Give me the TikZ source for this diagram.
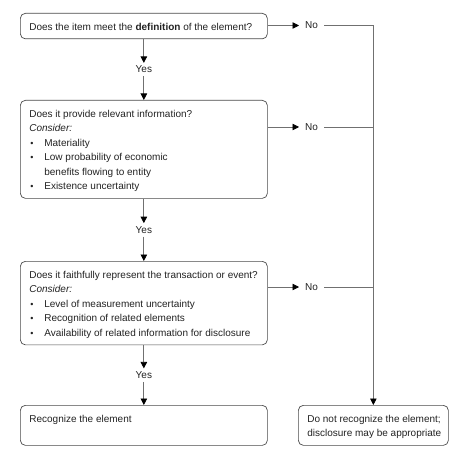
\documentclass[tikz,border=0pt]{standalone}
\usepackage{fontspec}
\setmainfont{Liberation Sans}
\usepackage{tikz}
\usetikzlibrary{calc,arrows.meta,positioning}
\definecolor{linegray}{HTML}{707070}
\definecolor{boxgray}{HTML}{4A4A4A}
\definecolor{textgray}{HTML}{222222}
\newcommand{\bitem}[1]{\par\noindent\hangindent=15bp\hangafter=1\makebox[15bp][l]{\hspace{1bp}\small\textbullet}#1}

\begin{document}
\begin{tikzpicture}[x=1bp,y=1bp,
    every node/.style={font=\fontsize{10bp}{14.5bp}\selectfont, text=textgray},
    qbox/.style={draw=boxgray, line width=0.7bp, rounded corners=5bp, anchor=north west,
        text width=239bp, inner xsep=4bp, inner ysep=5.5bp, align=flush left,
        execute at begin node={\leftskip=5bp\rule{0pt}{11.5bp}},
        execute at end node={\rule[-3bp]{0pt}{3bp}}},
    answer/.style={inner xsep=6bp, inner ysep=3bp},
    flow/.style={draw=linegray, line width=0.8bp, -{Triangle[width=6.5bp,length=6.5bp,color=black]}},
    link/.style={draw=linegray, line width=0.8bp}]
        \useasboundingbox (0,0) rectangle (456,-460);
        % boxes
        \node[qbox] (def) at (20,-13) {Does the item meet the \textbf{definition} of the element?};
        \node[qbox] (rel) at (20,-100) {Does it provide relevant information?\\
            \textit{Consider:}
            \bitem{Materiality}
            \bitem{Low probability of economic\newline benefits flowing to entity}
            \bitem{Existence uncertainty}};
        \node[qbox] (rep) at (20,-261) {Does it faithfully represent the transaction or event?\\
            \textit{Consider:}
            \bitem{Level of measurement uncertainty}
            \bitem{Recognition of related elements}
            \bitem{Availability of related information for disclosure}};
        \node[qbox] (yes) at (20,-405) {Recognize the element\\\mbox{}};
        \node[qbox, text width=142bp] (no) at (298,-405) {Do not recognize the element;\\
            disclosure may be appropriate};

        % Yes branch
        \node[answer] (yes1) at ($(def.south)!0.5!(rel.north)$) {Yes};
        \node[answer] (yes2) at ($(rel.south)!0.5!(rep.north)$) {Yes};
        \node[answer] (yes3) at ($(rep.south)!0.5!(yes.north)$) {Yes};
        \draw[flow] (def) -- (yes1);
        \draw[flow] (yes1) -- (rel);
        \draw[flow] (rel) -- (yes2);
        \draw[flow] (yes2) -- (rep);
        \draw[flow] (rep) -- (yes3);
        \draw[flow] (yes3) -- (yes);

        % No branch
        \node[answer, anchor=west] (no1) at (299,-25.5) {No};
        \node[answer, anchor=west] (no2) at (299,-127) {No};
        \node[answer, anchor=west] (no3) at (299,-287) {No};
        \coordinate (c1) at (no.north |- no1);
        \coordinate (c2) at (no.north |- no2);
        \coordinate (c3) at (no.north |- no3);
        \draw[flow] (def.east |- no1) -- (no1);
        \draw[flow] (rel.east |- no2) -- (no2);
        \draw[flow] (rep.east |- no3) -- (no3);
        \draw[link] (no1) -- (c1);
        \draw[link] (no2) -- (c2);
        \draw[link] (no3) -- (c3);
        \draw[flow] (c1) -- (no);
\end{tikzpicture}
\end{document}
